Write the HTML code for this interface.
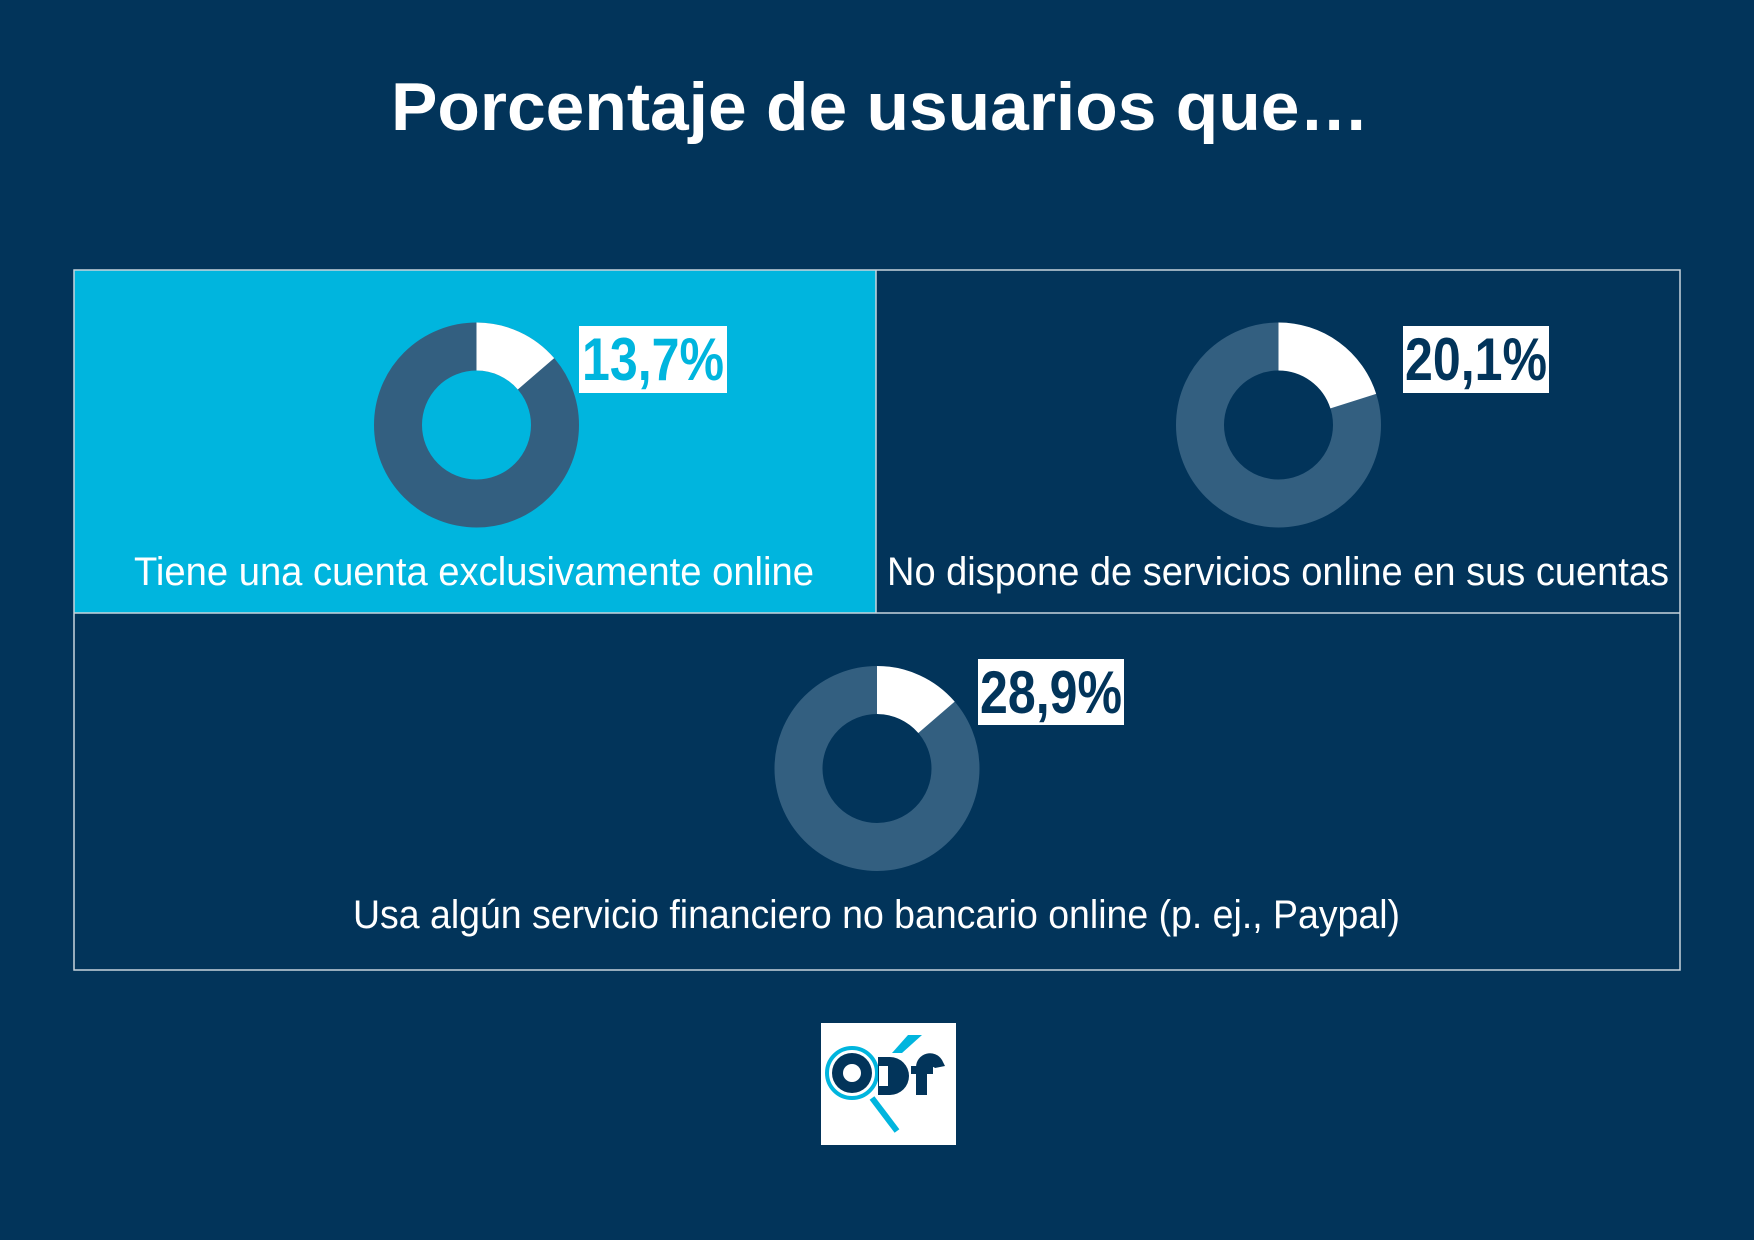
<!DOCTYPE html>
<html><head><meta charset="utf-8"><style>
html,body{margin:0;padding:0;background:#02345a;}
svg{display:block}
</style></head><body>
<svg width="1754" height="1240" viewBox="0 0 1754 1240" xmlns="http://www.w3.org/2000/svg" font-family="Liberation Sans, sans-serif">
<rect width="1754" height="1240" fill="#02345a"/>
<text x="880" y="130" text-anchor="middle" font-size="68" font-weight="bold" fill="#fff" textLength="978" lengthAdjust="spacingAndGlyphs">Porcentaje de usuarios que…</text>
<rect x="74" y="270" width="802" height="343" fill="#00b5de"/>
<rect x="74" y="270" width="1606" height="700" fill="none" stroke="#c8d3dc" stroke-width="1.5"/>
<line x1="74" y1="613" x2="1680" y2="613" stroke="#c8d3dc" stroke-width="1.5"/>
<line x1="876" y1="270" x2="876" y2="613" stroke="#c8d3dc" stroke-width="1.5"/>
<g fill="none" stroke-width="48">
<circle cx="476.5" cy="425" r="78.5" stroke="#335f80"/>
<circle cx="476.5" cy="425" r="78.5" stroke="#fff" stroke-dasharray="67.5 500" transform="rotate(-90 476.5 425)"/>
<circle cx="1278.5" cy="425" r="78.5" stroke="#335f80"/>
<circle cx="1278.5" cy="425" r="78.5" stroke="#fff" stroke-dasharray="99 500" transform="rotate(-90 1278.5 425)"/>
<circle cx="877" cy="768.5" r="78.5" stroke="#335f80"/>
<circle cx="877" cy="768.5" r="78.5" stroke="#fff" stroke-dasharray="67.5 500" transform="rotate(-90 877 768.5)"/>
</g>
<rect x="579" y="326" width="148" height="67" fill="#fff"/>
<text x="653" y="380" text-anchor="middle" font-size="60" font-weight="bold" fill="#00b5de" textLength="142" lengthAdjust="spacingAndGlyphs">13,7%</text>
<rect x="1403" y="326" width="146" height="67" fill="#fff"/>
<text x="1476" y="380" text-anchor="middle" font-size="60" font-weight="bold" fill="#02345a" textLength="142" lengthAdjust="spacingAndGlyphs">20,1%</text>
<rect x="978" y="659" width="146" height="66" fill="#fff"/>
<text x="1051" y="713" text-anchor="middle" font-size="60" font-weight="bold" fill="#02345a" textLength="142" lengthAdjust="spacingAndGlyphs">28,9%</text>
<g fill="#fff" font-size="40">
<text x="134" y="585" textLength="680" lengthAdjust="spacingAndGlyphs">Tiene una cuenta exclusivamente online</text>
<text x="887" y="585" textLength="782" lengthAdjust="spacingAndGlyphs">No dispone de servicios online en sus cuentas</text>
<text x="353" y="928" textLength="1047" lengthAdjust="spacingAndGlyphs">Usa algún servicio financiero no bancario online (p. ej., Paypal)</text>
</g>
<!-- logo -->
<rect x="821" y="1023" width="135" height="122" fill="#fff"/>
<line x1="872" y1="1098" x2="897" y2="1131" stroke="#00b5de" stroke-width="6"/>
<circle cx="852" cy="1073" r="25" fill="none" stroke="#00b5de" stroke-width="4"/>
<circle cx="852" cy="1073" r="20" fill="#02345a"/>
<circle cx="852" cy="1073" r="9" fill="#fff"/>
<path d="M878 1057 h12 a19 19 0 0 1 0 38 h-12 z" fill="#02345a"/>
<rect x="879" y="1066" width="9" height="20" fill="#fff"/>
<polygon points="908,1035 922,1035 902,1053 892,1053" fill="#00b5de"/>
<path d="M916 1095 v-28 a14 14 0 0 1 26 -7 l3 6 l-10 2 a5 5 0 0 0 -8 2 v25 z" fill="#02345a"/>
<rect x="911" y="1066" width="22" height="8" fill="#02345a"/>
</svg>
</body></html>
